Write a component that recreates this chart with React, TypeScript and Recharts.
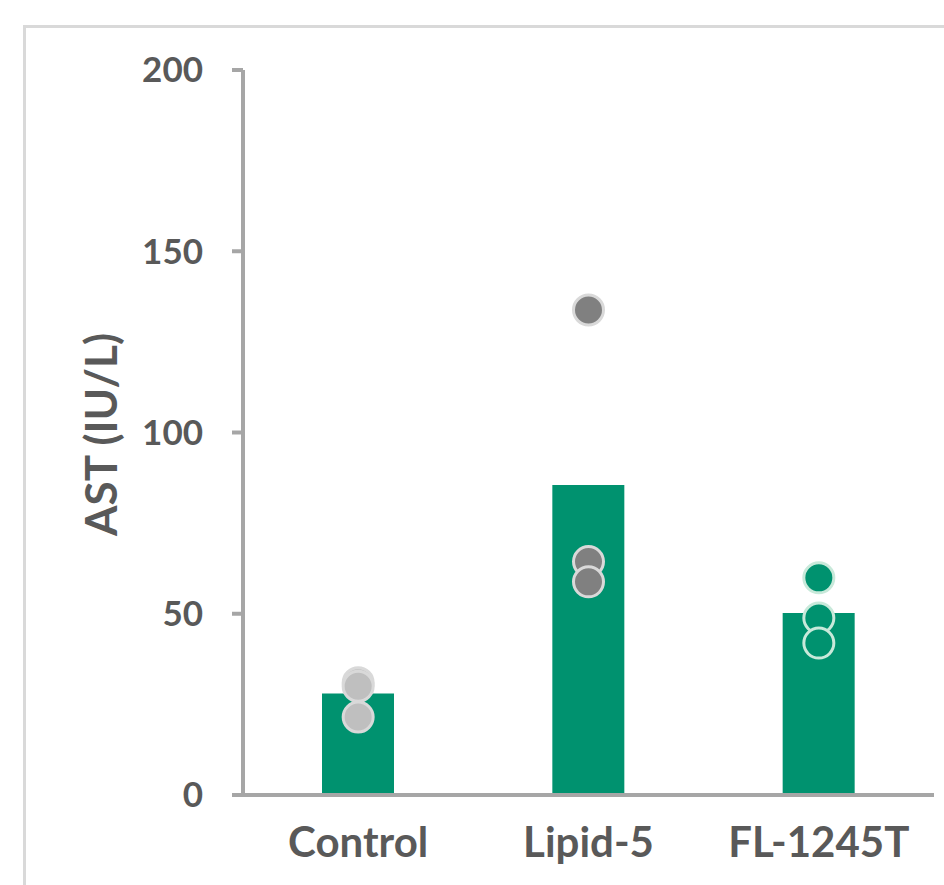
import React from "react";
import { ComposedChart, Bar, Scatter, XAxis, YAxis, Label } from "recharts";

// AST per group: bar = group mean, dots = individual animals
const categories = ["Control", "Lipid-5", "FL-1245T"];
const means = [28, 85.5, 50.2];
const rep1 = [31, 133.8, 59.9];
const rep2 = [30, 64.4, 48.8];
const rep3 = [21.5, 58.8, 41.9];
const yTicks = [0, 50, 100, 150, 200];

const BAR_COLOR = "#00926f";
const AXIS_COLOR = "#a6a6a6";
const TEXT_COLOR = "#595959";

const DOT_STYLE: Record<string, { fill: string; stroke: string }> = {
  Control: { fill: "#bfbfbf", stroke: "#d9d9d9" },
  "Lipid-5": { fill: "#808080", stroke: "#d9d9d9" },
  "FL-1245T": { fill: "#00926f", stroke: "#c8e9da" },
};

const data = categories.map((name, i) => ({
  name,
  mean: means[i],
  r1: rep1[i],
  r2: rep2[i],
  r3: rep3[i],
}));

function Dot(props: any) {
  const { cx, cy, payload } = props;
  if (cx == null || cy == null) return null;
  const s = DOT_STYLE[payload?.name] ?? DOT_STYLE.Control;
  return <circle cx={cx} cy={cy} r={15} fill={s.fill} stroke={s.stroke} strokeWidth={3} />;
}

function AxisTitle(props: any) {
  const vb = props.viewBox ?? { x: 0, y: 70, width: 243, height: 725 };
  const x = 117;
  const y = vb.y + vb.height / 2 + 2;
  return (
    <text
      x={x}
      y={y}
      transform={`rotate(-90, ${x}, ${y})`}
      textAnchor="middle"
      fill={TEXT_COLOR}
      fontSize={44}
      fontWeight={700}
      fontFamily="Lato"
    >
      AST (IU/L)
    </text>
  );
}

export default function App() {
  const tick = { fontSize: 35, fontWeight: 700, fill: TEXT_COLOR, fontFamily: "Lato" };
  return (
    <div
      style={{
        position: "absolute",
        left: 0,
        top: 0,
        width: 944,
        height: 885,
        overflow: "hidden",
        background: "#fff",
        fontFamily: "Lato",
      }}
    >
      <div
        style={{
          position: "absolute",
          left: 23,
          top: 25,
          width: 1000,
          height: 1000,
          borderTop: "3px solid #d9d9d9",
          borderLeft: "3px solid #d9d9d9",
        }}
      />
      <ComposedChart
        width={944}
        height={885}
        data={data}
        margin={{ top: 70, right: 10, bottom: 30, left: 0 }}
        style={{ position: "absolute", left: 0, top: 0 }}
      >
        <XAxis
          dataKey="name"
          type="category"
          axisLine={{ stroke: AXIS_COLOR, strokeWidth: 4 }}
          tickLine={false}
          tickSize={0}
          tickMargin={32}
          height={60}
          tick={{ ...tick, fontSize: 42 }}
          interval={0}
        />
        <YAxis
          type="number"
          domain={[0, 200]}
          ticks={yTicks}
          width={243}
          axisLine={{ stroke: AXIS_COLOR, strokeWidth: 4 }}
          tickLine={{ stroke: AXIS_COLOR, strokeWidth: 4 }}
          tickSize={11}
          tickMargin={29}
          tick={tick}
          interval={0}
        >
          <Label content={<AxisTitle />} />
        </YAxis>
        <Bar dataKey="mean" fill={BAR_COLOR} barSize={72} isAnimationActive={false} />
        <Scatter dataKey="r1" shape={<Dot />} isAnimationActive={false} />
        <Scatter dataKey="r2" shape={<Dot />} isAnimationActive={false} />
        <Scatter dataKey="r3" shape={<Dot />} isAnimationActive={false} />
      </ComposedChart>
    </div>
  );
}
